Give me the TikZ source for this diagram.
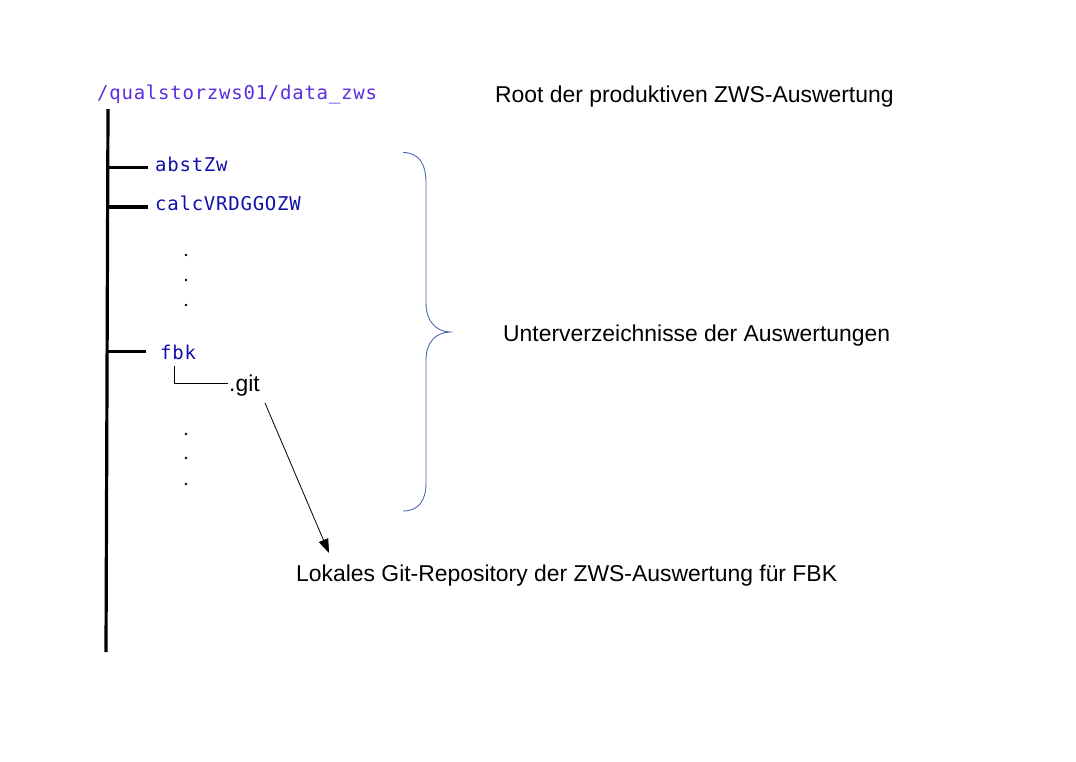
\documentclass[tikz,border=0pt]{standalone}
\usepackage{fontspec}
\setmainfont{Liberation Sans}
\newfontfamily\pathmono[LetterSpace=4]{DejaVu Sans Mono}
\usetikzlibrary{arrows.meta}
\definecolor{rootcol}{HTML}{5A2EE0}
\definecolor{dircol}{HTML}{1010A8}
\definecolor{bracecol}{HTML}{4A6AAA}
\tikzset{
  dirlabel/.style={anchor=base west, inner sep=0pt, text=dircol, font=\pathmono\fontsize{19}{22}\selectfont},
  rootlabel/.style={anchor=base west, inner sep=0pt, text=rootcol, font=\pathmono\fontsize{19}{22}\selectfont},
  note/.style={anchor=base west, inner sep=0pt, font=\fontsize{22.9}{26}\selectfont},
  trunk/.style={line width=3.2pt},
  thin/.style={line width=0.8pt},
  vdot/.style={circle, fill=black, inner sep=0pt, minimum size=2.8pt},
}
\begin{document}
\begin{tikzpicture}[x=1pt,y=-1pt]
\useasboundingbox (0,0) rectangle (1076,761);
% labels
\node[rootlabel] (root) at (97,99.5) {/qualstorzws01/data\_zws};
\node[dirlabel] (abst) at (155,171.5) {abstZw};
\node[dirlabel] (calc) at (155,210) {calcVRDGGOZW};
\node[dirlabel] (fbk) at (160,359.3) {fbk};
\node[note] (git) at (229,391.7) {.git};
\node[note] (rootnote) at (495,102) {Root der produktiven ZWS-Auswertung};
\node[note] (subnote) at (503,341) {Unterverzeichnisse der Auswertungen};
\node[note] (gitnote) at (296,581) {Lokales Git-Repository der ZWS-Auswertung für FBK};
% tree
\coordinate (ttop) at (108,109);
\coordinate (tbot) at (106,652);
\draw[trunk] (ttop) -- (tbot);
\coordinate (b1s) at (107.5,167.5); \coordinate (b1e) at (148,167.5);
\coordinate (b2s) at (107.3,207); \coordinate (b2e) at (148,207);
\coordinate (b3s) at (106.8,351.5); \coordinate (b3e) at (146,351.5);
\draw[trunk] (b1s) -- (b1e);
\draw[trunk] (b2s) -- (b2e);
\draw[trunk] (b3s) -- (b3e);
% fbk sub
\coordinate (fs) at (174.5,366);
\coordinate (fc) at (174.5,383.5);
\coordinate (fe) at (228,383.5);
\draw[thin] (fs) -- (fc) -- (fe);
% dots
\foreach \n/\y in {d1/255,d2/280,d3/305,d4/434,d5/458,d6/484}
  \node[vdot] (\n) at (186,\y) {};
% brace
\draw[bracecol, line width=0.9pt] (403,152.5) .. controls (419,152.5) and (426,164) .. (426,183) -- (426,303)
  .. controls (426,320) and (435,331.5) .. (450,332)
  .. controls (435,332.5) and (426,343) .. (426,360) -- (426,483)
  .. controls (426,500) and (419,511) .. (403,511);
% arrow
\coordinate (as) at (265,403);
\coordinate (ae) at (329,553);
\draw[thin, -{Triangle[length=14pt,width=10pt]}] (as) -- (ae);
\end{tikzpicture}
\end{document}
